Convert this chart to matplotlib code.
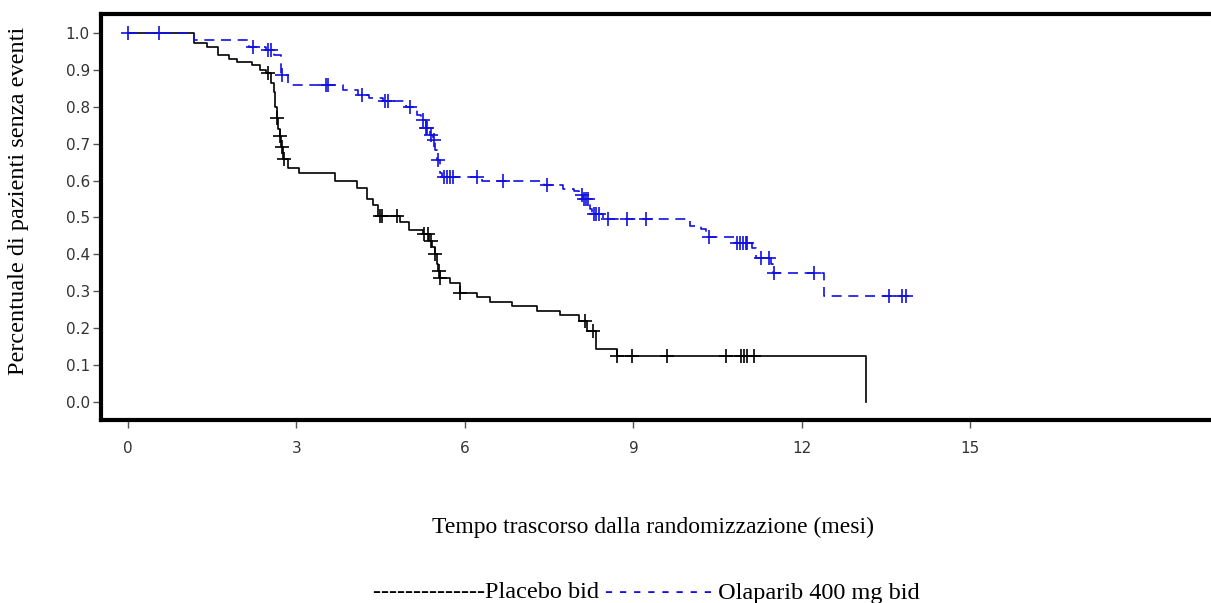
import numpy as np
import matplotlib
matplotlib.use("Agg")
import matplotlib.pyplot as plt

# Kaplan-Meier curves (time in months, survival after step)
placebo_times = [0, 1.17, 1.4, 1.6, 1.8, 1.95, 2.2, 2.35, 2.45, 2.55, 2.6, 2.62, 2.65,
                 2.68, 2.7, 2.73, 2.76, 2.85, 3.05, 3.69, 4.08, 4.26, 4.37, 4.46, 4.85,
                 5.0, 5.25, 5.36, 5.42, 5.46, 5.5, 5.52, 5.55, 5.73, 5.91, 6.21, 6.44,
                 6.83, 7.28, 7.69, 8.04, 8.18, 8.34, 8.70, 13.14]
placebo_surv = [1.0, 0.973, 0.962, 0.94, 0.929, 0.921, 0.913, 0.90, 0.891, 0.864, 0.84,
                0.80, 0.77, 0.74, 0.72, 0.69, 0.66, 0.635, 0.62, 0.60, 0.58, 0.55, 0.533,
                0.503, 0.487, 0.465, 0.456, 0.437, 0.42, 0.40, 0.375, 0.356, 0.337, 0.323,
                0.296, 0.283, 0.27, 0.26, 0.247, 0.234, 0.22, 0.193, 0.144, 0.125, 0.0]
placebo_censor = [2.5, 2.65, 2.7, 2.75, 2.78, 4.48, 4.53, 4.79, 5.28, 5.34, 5.4, 5.47,
                  5.53, 5.56, 5.91, 8.13, 8.28, 8.7, 8.97, 9.60, 10.65, 10.92, 10.97,
                  11.03, 11.15]
placebo_end = 13.14

olaparib_times = [0, 1.17, 2.15, 2.45, 2.6, 2.72, 2.85, 3.83, 4.1, 4.3, 4.55, 4.95, 5.15,
                  5.22, 5.3, 5.38, 5.43, 5.47, 5.5, 5.55, 5.6, 6.30, 7.4, 7.74, 7.95, 8.04,
                  8.1, 8.22, 8.27, 8.45, 10.0, 10.2, 10.3, 10.82, 11.12, 11.18, 11.45,
                  11.48, 12.39]
olaparib_surv = [1.0, 0.981, 0.962, 0.955, 0.94, 0.888, 0.859, 0.845, 0.832, 0.823, 0.815,
                 0.80, 0.777, 0.764, 0.742, 0.725, 0.71, 0.682, 0.655, 0.622, 0.609, 0.60,
                 0.587, 0.578, 0.573, 0.56, 0.55, 0.524, 0.51, 0.497, 0.478, 0.47, 0.446,
                 0.43, 0.416, 0.39, 0.375, 0.348, 0.288]
olaparib_censor = [0, 0.55, 2.22, 2.49, 2.54, 2.75, 3.52, 3.57, 4.17, 4.58, 4.63, 5.02,
                   5.25, 5.3, 5.33, 5.4, 5.45, 5.52, 5.62, 5.68, 5.73, 5.79, 6.21, 6.67,
                   7.47, 8.08, 8.12, 8.16, 8.2, 8.3, 8.34, 8.38, 8.54, 8.89, 9.23, 10.35,
                   10.85, 10.9, 10.95, 11.0, 11.03, 11.27, 11.41, 11.5, 12.21, 13.55,
                   13.78, 13.85]
olaparib_end = 13.9

x_ticks = [0, 3, 6, 9, 12, 15]
y_ticks = [0.0, 0.1, 0.2, 0.3, 0.4, 0.5, 0.6, 0.7, 0.8, 0.9, 1.0]

BLUE = "#1010e0"


def step_value(times, surv, t):
    idx = np.searchsorted(times, t, side="right") - 1
    return np.array(surv)[idx]


def draw_km(ax, times, surv, censor, end, color, dashed):
    xs = list(times) + [end]
    ys = list(surv) + [surv[-1]]
    line, = ax.step(xs, ys, where="post", color=color, linewidth=1.2)
    if dashed:
        line.set_dashes((6, 4))
    cy = step_value(times, surv, np.array(censor))
    ax.plot(censor, cy, linestyle="none", marker="+", markersize=10,
            markeredgewidth=1.2, color=color)


fig = plt.figure(figsize=(12.11, 6.03), dpi=100)
ax = fig.add_axes([101 / 1211, 0.3035, 1.0 - 101 / 1211 + 0.01, 0.6725])

draw_km(ax, placebo_times, placebo_surv, placebo_censor, placebo_end, "black", False)
draw_km(ax, olaparib_times, olaparib_surv, olaparib_censor, olaparib_end, BLUE, True)

ax.set_xlim(-0.48, 19.5)
ax.set_ylim(-0.0497, 1.051)
ax.set_xticks(x_ticks)
ax.set_yticks(y_ticks)
ax.set_yticklabels(["%.1f" % v for v in y_ticks])

for side in ["left", "top", "bottom", "right"]:
    ax.spines[side].set_linewidth(3)
ax.tick_params(axis="both", direction="out", length=6, width=1, color="#555555",
               labelsize=11, labelcolor="#333333")
ax.tick_params(axis="y", pad=2)
ax.tick_params(axis="x", pad=9)

# y title, placed by hand like in the original
fig.text(19 / 1211, 1 - 201 / 603, "Percentuale di pazienti senza eventi",
         family="Liberation Serif", fontsize=17.5, rotation=90,
         ha="center", va="center")
fig.text(0.5 * (430 + 877) / 1211, 1 - 527 / 603,
         "Tempo trascorso dalla randomizzazione (mesi)",
         family="Liberation Serif", fontsize=17, ha="center", va="center")

# legend line at the bottom, as text
t1 = fig.text(373 / 1211, 1 - 593 / 603, "--------------Placebo bid ",
              family="Liberation Serif", fontsize=17.5, va="center", ha="left")
t2 = ax.annotate("- - - - - - - -", xy=(1, 0), xycoords=t1, va="bottom", ha="left",
                 family="Liberation Serif", fontsize=17.5, color=BLUE)
t3 = ax.annotate(" Olaparib 400 mg bid", xy=(1, 0), xycoords=t2, va="bottom", ha="left",
                 family="Liberation Serif", fontsize=17.5, color="black")

fig.savefig("out.png", dpi=100)
